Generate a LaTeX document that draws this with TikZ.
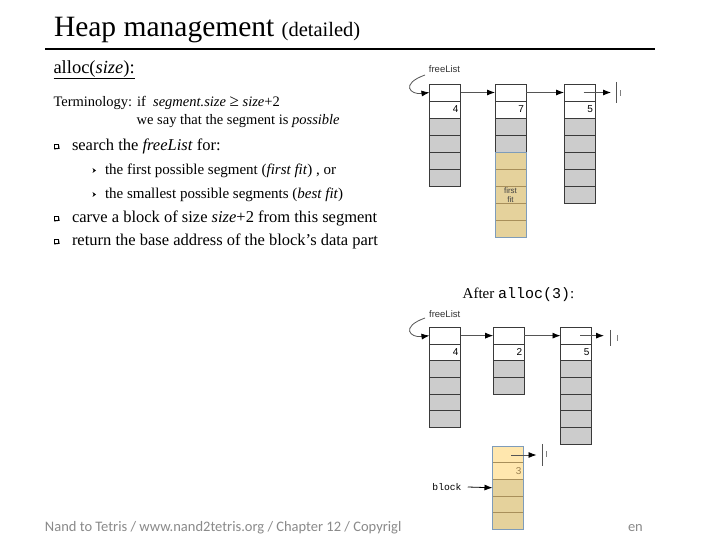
\documentclass[tikz,border=0pt]{standalone}
\usepackage{fontspec}
\setmainfont{Liberation Serif}
\newfontfamily\sansf{Liberation Sans}
\newfontfamily\monof{Liberation Mono}
\newfontfamily\footf{Carlito}
\usetikzlibrary{arrows.meta}
\definecolor{cellgray}{HTML}{CCCCCC}
\definecolor{celledge}{HTML}{3A3A3A}
\definecolor{tanfill}{HTML}{E5D29C}
\definecolor{tanline}{HTML}{A88F5A}
\definecolor{paleyel}{HTML}{FFE7AE}
\definecolor{blueedge}{HTML}{7E9CBA}
\definecolor{footgray}{HTML}{8A8A8A}
\definecolor{linkgray}{HTML}{555555}
\definecolor{numbrown}{HTML}{9A8050}
\newcommand{\fsz}[1]{\fontsize{#1pt}{#1pt}\selectfont}
\begin{document}
\begin{tikzpicture}[x=1pt,y=-1pt,
  txt/.style={anchor=base west,inner sep=0pt,outer sep=0pt},
  cellw/.style={draw=celledge,line width=0.7pt,fill=white,minimum width=31pt,minimum height=17pt,inner sep=0pt,outer sep=0pt,
     text width=27pt,align=right,font=\sansf\fsz{10}},
  cellg/.style={cellw,fill=cellgray},
  cellt/.style={cellw,draw=tanline,fill=tanfill},
  celly/.style={cellw,draw=tanline,fill=paleyel},
  low/.style={minimum height=16.7pt},
  link/.style={draw=linkgray,line width=0.8pt,-{Latex[length=8pt,width=6pt,color=black]}},
  gnd/.style={draw=linkgray,line width=0.8pt},
  gndsmall/.style={draw=gray,line width=0.6pt},
  lbl/.style={font=\sansf\fsz{9.5},text=black!80,inner sep=0pt},
  sqbullet/.style={draw=black,line width=0.5pt,minimum size=4.5pt,inner sep=0pt,fill=white},
]
\useasboundingbox[fill=white] (0,0) rectangle (724,540);

% title
\node[txt] (title) at (54,37) {\fsz{29.5}Heap management \fsz{20.5}(detailed)};
\draw[line width=1.4pt] (45,49) -- (655,49);

% left text
\node[txt] (alloc) at (53.5,73.3) {\fsz{18.5}\underline{alloc(\textit{size}):}};
\node[txt] (term1) at (53.5,107) {\fsz{14.5}Terminology: if \ \textit{segment.size} {\fsz{17}≥} \textit{size}+2};
\node[txt] (term2) at (136.7,124.5) {\fsz{14.5}we say that the segment is \textit{possible}};

\node[sqbullet] (b1s) at (56,146.5) {};
\draw[line width=0.9pt] ([xshift=0.6pt]b1s.south west) -- ([xshift=0.6pt,yshift=0.6pt]b1s.south east) -- ([yshift=-0.6pt]b1s.north east);
\node[txt] (l1) at (72,150.7) {\fsz{16.5}search the \textit{freeList} for:};

\fill (96,170.5) -- (92.5,168) -- (93.6,170.5) -- (92.5,173) -- cycle;
\node[txt] (l2) at (105,174.3) {\fsz{15}the first possible segment (\textit{first fit}) , or};
\fill (96,194.5) -- (92.5,192) -- (93.6,194.5) -- (92.5,197) -- cycle;
\node[txt] (l3) at (105,198.3) {\fsz{15}the smallest possible segments (\textit{best fit})};

\node[sqbullet] (b2s) at (56,218.5) {};
\draw[line width=0.9pt] ([xshift=0.6pt]b2s.south west) -- ([xshift=0.6pt,yshift=0.6pt]b2s.south east) -- ([yshift=-0.6pt]b2s.north east);
\node[txt] (l4) at (72,222.7) {\fsz{16.5}carve a block of size \textit{size}+2 from this segment};

\node[sqbullet] (b3s) at (56,241.5) {};
\draw[line width=0.9pt] ([xshift=0.6pt]b3s.south west) -- ([xshift=0.6pt,yshift=0.6pt]b3s.south east) -- ([yshift=-0.6pt]b3s.north east);
\node[txt] (l5) at (72,245.7) {\fsz{16.5}return the base address of the block’s data part};

% ---------- top diagram ----------
\node[lbl] (fl1) at (444.5,69.5) {freeList};
\coordinate (fl1s) at (425,75);
% column a
\node[cellw] (a1) at (445,92.5) {};
\node[cellw] (a2) at (445,109.5) {4};
\foreach \i in {3,...,6} \node[cellg] (a\i) at (445,{75.5+17*\i}) {};
% column b
\node[cellw] (b1) at (510.5,92.5) {};
\node[cellw] (b2) at (510.5,109.5) {7};
\foreach \i in {3,4} \node[cellg] (b\i) at (510.5,{75.5+17*\i}) {};
\foreach \i in {5,...,9} \node[cellt] (b\i) at (510.5,{75.5+17*\i}) {};
\draw[blueedge,line width=0.8pt] (b5.north west) rectangle (b9.south east);
\node[font=\sansf\fsz{8},align=center,text=black!75,inner sep=0pt] (ff) at (510.5,195) {first\\[1.5pt]fit};
% column c
\node[cellw] (c1) at (579.5,92.5) {};
\node[cellw] (c2) at (579.5,109.5) {5};
\foreach \i in {3,...,7} \node[cellg] (c\i) at (579.5,{75.5+17*\i}) {};

\draw[link] (fl1s) .. controls (400,84) and (410,95) .. (a1.west);
\draw[link] (a1.east) -- (b1.west);
\draw[link] (b1.east) -- (c1.west);
\coordinate (c1s) at (583.7,92.5);
\coordinate (c1e) at (611,92.5);
\draw[link] (c1s) -- (c1e);
\draw[gnd] (616,82) -- (616,103);
\draw[gndsmall] (620,90.5) -- (620,96.5);

% ---------- bottom diagram ----------
\node[inner sep=0pt,anchor=base] (after) at (518.5,299) {\fsz{15}After {\monof alloc(3)}:};
\node[lbl] (fl2) at (444.7,314.3) {freeList};
\coordinate (fl2s) at (425,318);
% column d
\node[cellw,low] (d1) at (445,335.65) {};
\node[cellw,low] (d2) at (445,352.35) {4};
\foreach \i in {3,...,6} \node[cellg,low] (d\i) at (445,{318.95+16.7*\i}) {};
% column e
\node[cellw,low] (e1) at (508.7,335.65) {};
\node[cellw,low] (e2) at (508.7,352.35) {2};
\foreach \i in {3,4} \node[cellg,low] (e\i) at (508.7,{318.95+16.7*\i}) {};
% column f
\node[cellw,low] (f1) at (576,335.65) {};
\node[cellw,low] (f2) at (576,352.35) {5};
\foreach \i in {3,...,7} \node[cellg,low] (f\i) at (576,{318.95+16.7*\i}) {};

\draw[link] (fl2s) .. controls (400,327) and (410,338) .. (d1.west);
\draw[link] (d1.east) -- (e1.west);
\draw[link] (e1.east) -- (f1.west);
\coordinate (f1s) at (580,335.65);
\coordinate (f1e) at (604,335.65);
\draw[link] (f1s) -- (f1e);
\draw[gnd] (610.7,330) -- (610.7,346);
\draw[gndsmall] (617,335) -- (617,341);

% block
\node[celly,low] (k1) at (508,454.35) {};
\node[celly,low,text=numbrown] (k2) at (508,471.05) {3};
\foreach \i in {3,4,5} \node[cellt,low] (k\i) at (508,{437.65+16.7*\i}) {};
\draw[blueedge,line width=0.8pt] (k1.north west) rectangle (k5.south east);
\coordinate (k1s) at (511,455);
\coordinate (k1e) at (536.5,455);
\draw[link] (k1s) -- (k1e);
\draw[gnd] (542.7,444) -- (542.7,466);
\draw[gndsmall] (546,451) -- (546,457);
\node[inner sep=0pt,font=\monof\fsz{9.7}] (blk) at (447,487) {block};
\draw[link,draw=black] (blk.east) ++(6,0) coordinate (blks) (blks) -- (k3.west);

% footer
\node[txt,text=footgray] (foot) at (45,532) {\footf\fsz{14.5}Nand to Tetris / www.nand2tetris.org / Chapter 12 / Copyrigl};
\node[txt,text=footgray] (foot2) at (628,532) {\footf\fsz{14.5}en};
\end{tikzpicture}
\end{document}
